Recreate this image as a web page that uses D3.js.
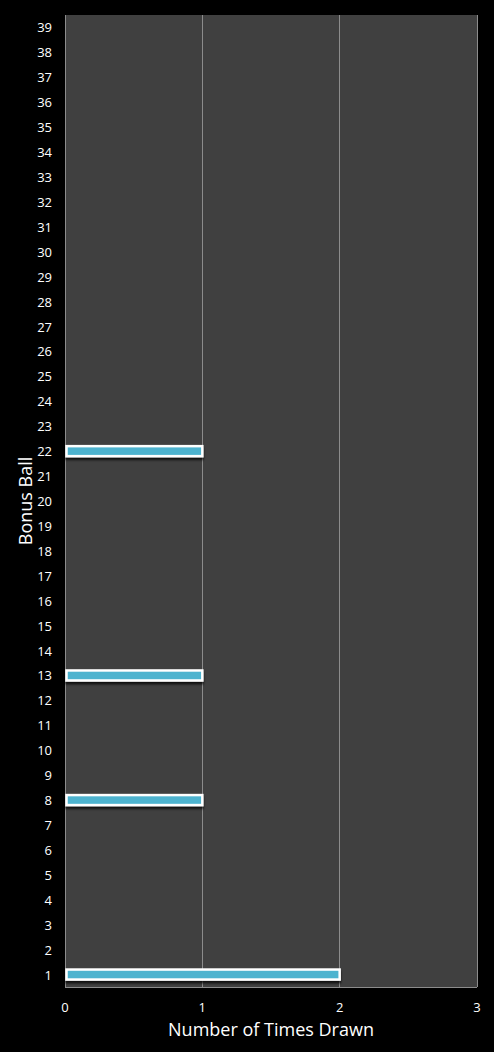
<!DOCTYPE html>
<html><head><meta charset="utf-8">
<script src="https://cdn.jsdelivr.net/npm/d3@7/dist/d3.min.js"></script>
<style>
html,body{margin:0;padding:0;background:#000;}
svg{display:block;}
</style></head>
<body>
<script>
const categories = d3.range(1, 40).map(String);
const values = [2,0,0,0,0,0,0,1,0,0,0,0,1,0,0,0,0,0,0,0,0,1,0,0,0,0,0,0,0,0,0,0,0,0,0,0,0,0,0];
const xTicks = [0,1,2,3];

const W = 494, H = 1052;
const m = {left:65, right:17, top:15, bottom:65};
const svg = d3.select("body").append("svg").attr("width", W).attr("height", H);
svg.append("rect").attr("width", W).attr("height", H).attr("fill", "#000");

const defs = svg.append("defs");
const f = defs.append("filter").attr("id","sh").attr("x","-5%").attr("y","-50%").attr("width","110%").attr("height","250%");
f.append("feDropShadow").attr("dx",0).attr("dy",2.5).attr("stdDeviation",1.2).attr("flood-color","#000").attr("flood-opacity",0.8);

const x = d3.scaleLinear().domain([0,3]).range([m.left, W - m.right]);
const y = d3.scaleBand().domain(categories.slice().reverse()).range([m.top, H - m.bottom]).paddingInner(0.5).paddingOuter(0.25);

// plot area
svg.append("rect").attr("x", x(0)).attr("y", m.top).attr("width", x(3)-x(0)).attr("height", H-m.bottom-m.top).attr("fill", "#404040");

// gridlines
svg.append("g").selectAll("line").data(xTicks).join("line")
  .attr("x1", d => x(d)).attr("x2", d => x(d))
  .attr("y1", m.top).attr("y2", H - m.bottom)
  .attr("stroke", "#8c8c8c").attr("stroke-width", 1).attr("shape-rendering","crispEdges");
svg.append("line").attr("x1", x(0)).attr("x2", x(3)).attr("y1", H-m.bottom+0.5).attr("y2", H-m.bottom+0.5)
  .attr("stroke", "#8c8c8c");

// bars
const bandH = y.bandwidth();
const barH = 10;
svg.append("g").selectAll("rect").data(categories.map((c,i)=>({c, v: values[i]})).filter(d=>d.v>0)).join("rect")
  .attr("x", x(0)+1.5)
  .attr("y", d => y(d.c) + (bandH - barH)/2)
  .attr("width", d => x(d.v) - x(0) - 1.5)
  .attr("height", barH)
  .attr("fill", "#4eb3cf")
  .attr("stroke", "#ffffff").attr("stroke-width", 2.5)
  .attr("filter", "url(#sh)");

// y axis labels
const font = "'Open Sans', 'DejaVu Sans', sans-serif";
svg.append("g").selectAll("text").data(categories).join("text")
  .attr("x", 52).attr("y", d => y(d) + bandH/2)
  .attr("text-anchor", "end").attr("dominant-baseline", "central")
  .attr("fill", "#fff").attr("font-family", font).attr("font-size", 13)
  .text(d => d);

// x axis labels
svg.append("g").selectAll("text").data(xTicks).join("text")
  .attr("x", d => x(d)).attr("y", 1007)
  .attr("text-anchor", "middle").attr("dominant-baseline", "central")
  .attr("fill", "#fff").attr("font-family", font).attr("font-size", 13)
  .text(d => d);

svg.append("text").attr("x", 271).attr("y", 1029)
  .attr("text-anchor", "middle").attr("dominant-baseline", "central")
  .attr("fill", "#fff").attr("font-family", font).attr("font-size", 18)
  .text("Number of Times Drawn");

svg.append("text").attr("transform", "translate(25,501) rotate(-90)")
  .attr("text-anchor", "middle").attr("dominant-baseline", "central")
  .attr("fill", "#fff").attr("font-family", font).attr("font-size", 18)
  .text("Bonus Ball");
</script>
</body></html>
